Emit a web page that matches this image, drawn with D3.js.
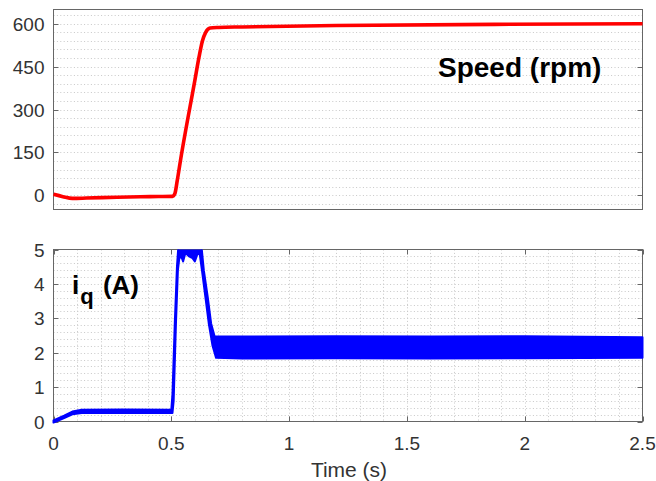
<!DOCTYPE html>
<head>
    <meta charset="UTF-8" />
    <style>
        body {
            margin: 0;
            padding: 0;
            background: #fff;
            font-family: "Liberation Sans", Arial, sans-serif;
        }

        .box {
            fill: none;
            stroke: #666;
            stroke-width: 1px;
        }

        .grid line {
            stroke: #c8c8c8;
            stroke-width: 1px;
            stroke-dasharray: 1, 2.4;
        }

        .tick-label {
            fill: #333;
            font-size: 19px;
        }
    </style>
    <title>Speed and iq</title>
</head>

<svg width="656" height="481"></svg>
<script src="https://d3js.org/d3.v7.min.js"></script>

<script>
    // speed response (rpm)
    var speedT = [0, 0.04, 0.08, 0.14, 0.27, 0.41, 0.505, 0.515, 0.525, 0.54, 0.6, 0.618, 0.632, 0.646, 0.665, 0.7, 0.8, 1.2, 1.87, 2.5]
    var speedRpm = [3, -5, -11, -10, -7, -5, -4, 5, 50, 127, 402, 485, 540, 570, 585, 587, 589, 594, 598, 600]

    // iq (A): upper and lower envelope of the ripple band
    var iqHiT = [0, 0.045, 0.08, 0.12, 0.3, 0.5, 0.505, 0.515, 0.524, 0.53, 0.628, 0.638, 0.655, 0.669, 0.684, 0.8, 1.2, 1.6, 2.0, 2.5]
    var iqHi = [0.03, 0.17, 0.29, 0.34, 0.35, 0.34, 0.8, 2.9, 4.5, 5.1, 5.1, 4.4, 3.6, 2.85, 2.47, 2.47, 2.48, 2.47, 2.48, 2.45]
    var iqLoT = [0, 0.045, 0.08, 0.12, 0.3, 0.505, 0.51, 0.52, 0.528, 0.535, 0.545, 0.55, 0.56, 0.575, 0.59, 0.6, 0.61, 0.62, 0.63, 0.645, 0.659, 0.675, 0.69, 0.8, 1.2, 1.6, 2.0, 2.5]
    var iqLo = [-0.03, 0.1, 0.21, 0.25, 0.25, 0.25, 0.6, 2.9, 4.4, 4.8, 4.75, 4.65, 4.9, 4.8, 4.75, 4.65, 4.85, 4.9, 4.4, 3.6, 2.85, 2.2, 1.85, 1.83, 1.84, 1.83, 1.84, 1.85]

    var speedTicks = [0, 150, 300, 450, 600]
    var iqTicks = [0, 1, 2, 3, 4, 5]
    var timeTicks = [0, 0.5, 1, 1.5, 2, 2.5]

    var svg = d3.select("svg")
    var left = 53.5, right = 642.5

    var x = d3.scaleLinear().domain([0, 2.5]).range([left, right])
    var ySpeed = d3.scaleLinear().domain([-50, 650]).range([209.5, 9.5])
    var yIq = d3.scaleLinear().domain([0, 5]).range([421.5, 249.5])

    var tickLen = 5

    function panel(y, ticks, minorY, minorX, showX) {
        var g = svg.append("g")
        var y0 = y.range()[0], y1 = y.range()[1]

        var grid = g.append("g").attr("class", "grid")
        grid.selectAll(".h").data(minorY).enter().append("line")
            .attr("x1", left).attr("x2", right)
            .attr("y1", d => Math.round(y(d)) + 0.5).attr("y2", d => Math.round(y(d)) + 0.5)
        grid.selectAll(".v").data(minorX).enter().append("line")
            .attr("y1", y1).attr("y2", y0)
            .attr("x1", d => Math.round(x(d)) + 0.5).attr("x2", d => Math.round(x(d)) + 0.5)

        // inward ticks on all four sides
        var tk = g.append("g").attr("stroke", "#666")
        ticks.forEach(function (v) {
            var yy = Math.round(y(v)) + 0.5
            tk.append("line").attr("x1", left).attr("x2", left + tickLen).attr("y1", yy).attr("y2", yy)
            tk.append("line").attr("x1", right - tickLen).attr("x2", right).attr("y1", yy).attr("y2", yy)
        })
        if (showX) {
            timeTicks.forEach(function (v) {
                var xx = Math.round(x(v)) + 0.5
                tk.append("line").attr("x1", xx).attr("x2", xx).attr("y1", y0).attr("y2", y0 - tickLen)
                tk.append("line").attr("x1", xx).attr("x2", xx).attr("y1", y1).attr("y2", y1 + tickLen)
            })
            g.selectAll(".xl").data(timeTicks).enter().append("text")
                .attr("class", "tick-label")
                .attr("x", d => x(d)).attr("y", y0 + 28)
                .attr("text-anchor", "middle")
                .text(d => d)
        }

        g.selectAll(".yl").data(ticks).enter().append("text")
            .attr("class", "tick-label")
            .attr("x", left - 9).attr("y", d => y(d) + 7)
            .attr("text-anchor", "end")
            .text(d => d)

        g.append("rect").attr("class", "box")
            .attr("x", left).attr("y", y1)
            .attr("width", right - left).attr("height", y0 - y1)
        return g
    }

    panel(ySpeed, speedTicks, d3.range(-30, 650, 30), [], false)
    panel(yIq, iqTicks, d3.range(0.2, 5, 0.2), d3.range(0.1, 2.5, 0.1), true)

    // speed curve
    var speedLine = d3.line()
        .x((d, i) => x(speedT[i]))
        .y(d => ySpeed(d))
        .curve(d3.curveMonotoneX)

    svg.append("path")
        .datum(speedRpm)
        .attr("d", speedLine)
        .attr("fill", "none")
        .attr("stroke", "#ff0000")
        .attr("stroke-width", 3.6)
        .attr("stroke-linejoin", "round")

    // iq band, clipped at the top of its axes
    svg.append("clipPath").attr("id", "clipIq")
        .append("rect").attr("x", 0).attr("y", 249.5).attr("width", 656).attr("height", 200)

    var band = iqHi.map((v, i) => [x(iqHiT[i]), yIq(v)])
        .concat(iqLo.map((v, i) => [x(iqLoT[i]), yIq(v)]).reverse())

    svg.append("path")
        .datum(band)
        .attr("d", d3.line().curve(d3.curveLinearClosed))
        .attr("clip-path", "url(#clipIq)")
        .attr("fill", "#0000ff")
        .attr("stroke", "#0000ff")
        .attr("stroke-width", 2)
        .attr("stroke-linejoin", "round")

    // labels
    svg.append("text")
        .attr("x", 438).attr("y", 77)
        .attr("font-size", 28).attr("font-weight", "bold")
        .attr("fill", "#000")
        .text("Speed (rpm)")

    var iqLabel = svg.append("text")
        .attr("x", 72).attr("y", 294)
        .attr("font-weight", "bold").attr("fill", "#000")
    iqLabel.append("tspan").attr("font-size", 26).text("i")
    iqLabel.append("tspan").attr("font-size", 22).attr("dy", 10).attr("dx", 1).text("q")
    iqLabel.append("tspan").attr("font-size", 26).attr("dy", -10).attr("dx", 2).text(" (A)")

    svg.append("text")
        .attr("x", (left + right) / 2 + 1).attr("y", 477)
        .attr("text-anchor", "middle")
        .attr("font-size", 21).attr("fill", "#333")
        .text("Time (s)")
</script>
